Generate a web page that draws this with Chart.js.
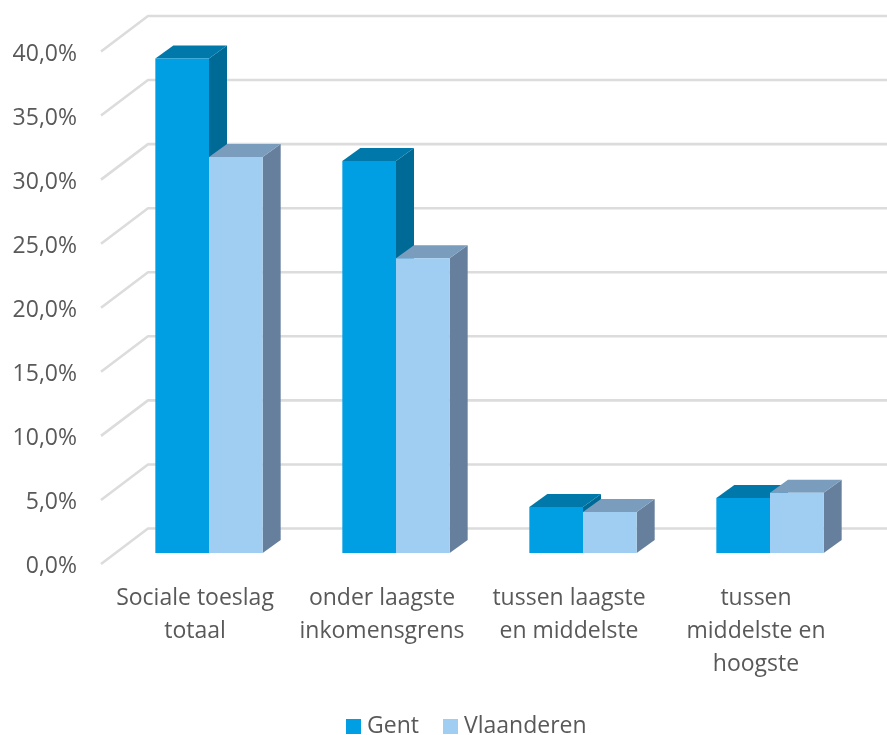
<!DOCTYPE html>
<html>
<head>
  <title>Sociale toeslag Gent - Vlaanderen</title>
  <style>
    html, body { margin: 0; padding: 0; background: #fff; overflow: hidden; }
    canvas { display: block; }
  </style>
</head>
<body>
  <canvas id="myChart" width="887" height="735"></canvas>
  <script src="https://cdn.jsdelivr.net/npm/chart.js@4/dist/chart.umd.min.js"></script>
  <script>
    const categories = [
      ['Sociale toeslag', 'totaal'],
      ['onder laagste', 'inkomensgrens'],
      ['tussen laagste', 'en middelste'],
      ['tussen', 'middelste en', 'hoogste']
    ];
    const gent = [38.6, 30.6, 3.6, 4.3];
    const vlaanderen = [30.9, 23.0, 3.2, 4.7];
    const tickLabels = ['0,0%', '5,0%', '10,0%', '15,0%', '20,0%', '25,0%', '30,0%', '35,0%', '40,0%'];

    const fontFamily = '"Open Sans", sans-serif';
    const fontSize = 23;
    const textColor = '#595959';
    const gridColor = '#dcdcdc';

    // colours of the 3d faces: front, top, side
    const faces = [
      { front: '#009fe3', top: '#0079aa', side: '#006a96' },
      { front: '#9fcef2', top: '#7a9dbd', side: '#667f9c' }
    ];

    function poly(ctx, pts, color) {
      ctx.fillStyle = color;
      ctx.beginPath();
      ctx.moveTo(pts[0][0], pts[0][1]);
      pts.slice(1).forEach(p => ctx.lineTo(p[0], p[1]));
      ctx.closePath();
      ctx.fill();
    }

    // back wall and floor lines, they hang off the y scale
    const wallPlugin = {
      id: 'wall',
      beforeDatasetsDraw(chart) {
        const ctx = chart.ctx;
        const y = chart.scales.y;
        ctx.save();
        ctx.strokeStyle = gridColor;
        ctx.lineWidth = 2.6;
        ctx.lineJoin = 'round';
        tickLabels.forEach((t, i) => {
          const py = y.getPixelForValue(i * 5);
          ctx.beginPath();
          ctx.moveTo(101, py + 11);
          ctx.lineTo(148, py - 24.5);
          ctx.lineTo(chart.width, py - 24.5);
          ctx.stroke();
        });
        ctx.restore();
      }
    };

    // top and side faces of the bars, the fronts are the normal bars
    const depthPlugin = {
      id: 'depth',
      beforeDatasetsDraw(chart) {
        const ctx = chart.ctx;
        const dx = 18, dy = 13;
        categories.forEach((c, i) => {
          faces.forEach((f, d) => {
            const bar = chart.getDatasetMeta(d).data[i];
            const l = bar.x - bar.width / 2;
            const r = bar.x + bar.width / 2;
            poly(ctx, [[r, bar.y], [r + dx, bar.y - dy], [r + dx, bar.base - dy], [r, bar.base]], f.side);
            poly(ctx, [[l, bar.y], [l + dx, bar.y - dy], [r + dx, bar.y - dy], [r, bar.y]], f.top);
          });
        });
      }
    };

    // legend with the tight box/text gap of the original
    const legendPlugin = {
      id: 'bottomLegend',
      afterDraw(chart) {
        const ctx = chart.ctx;
        const boxX = [346, 443];
        ctx.save();
        ctx.font = fontSize + 'px ' + fontFamily;
        ctx.textBaseline = 'middle';
        chart.data.datasets.forEach((ds, i) => {
          ctx.fillStyle = ds.backgroundColor;
          ctx.fillRect(boxX[i], 719, 15, 15);
          ctx.fillStyle = textColor;
          ctx.fillText(ds.label, boxX[i] + 21, 726);
        });
        ctx.restore();
      }
    };

    new Chart(document.getElementById('myChart'), {
      type: 'bar',
      data: {
        labels: categories,
        datasets: [
          { label: 'Gent', data: gent, backgroundColor: faces[0].front },
          { label: 'Vlaanderen', data: vlaanderen, backgroundColor: faces[1].front }
        ]
      },
      options: {
        responsive: false,
        animation: false,
        devicePixelRatio: 1,
        layout: { padding: { top: 40.5, right: 23.5, left: 0, bottom: 0 } },
        plugins: { legend: { display: false }, tooltip: { enabled: false } },
        datasets: { bar: { barPercentage: 1, categoryPercentage: 0.574 } },
        scales: {
          x: {
            afterFit(scale) { scale.height = 182; },
            grid: { display: false, drawTicks: false },
            border: { display: false },
            ticks: {
              autoSkip: false,
              maxRotation: 0,
              minRotation: 0,
              labelOffset: -14,
              padding: 29,
              color: textColor,
              font: { family: fontFamily, size: fontSize, lineHeight: 1.435 }
            }
          },
          y: {
            min: 0,
            max: 40,
            afterFit(scale) {
              scale.width = 115.5;
              scale.paddingTop = 0;
              scale.paddingBottom = 0;
            },
            grid: { display: false, drawTicks: false },
            border: { display: false },
            ticks: {
              stepSize: 5,
              padding: 38.5,
              labelOffset: 13.5,
              color: textColor,
              font: { family: fontFamily, size: fontSize },
              callback: (value, index) => tickLabels[index]
            }
          }
        }
      },
      plugins: [wallPlugin, depthPlugin, legendPlugin]
    });
  </script>
</body>
</html>
